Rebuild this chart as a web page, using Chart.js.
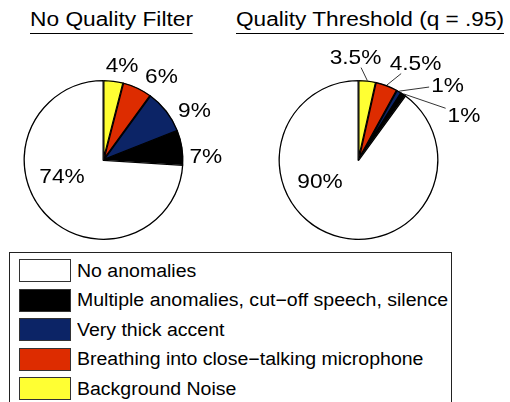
<!DOCTYPE html>
<html>
<head>
<meta charset="utf-8">
<script src="https://cdn.jsdelivr.net/npm/chart.js@4.4.1/dist/chart.umd.min.js"></script>
<style>
  html, body { margin:0; padding:0; background:#fff; }
  body { width:510px; height:402px; position:relative; overflow:hidden; font-family:"Liberation Sans", Arial, Helvetica, sans-serif; color:#000; }
  .title { position:absolute; top:8px; font-size:20px; line-height:22px; white-space:nowrap; transform-origin:0 0; border-bottom:1px solid #000; padding-bottom:3px; }
  canvas { position:absolute; }
  #legend { position:absolute; left:9px; top:252px; width:443px; height:170px; border:1px solid #222; box-sizing:border-box; }
  .row { position:absolute; left:9px; height:23px; display:flex; align-items:center; }
  .sw { width:52px; height:23px; box-sizing:border-box; border:1px solid #333; flex:none; }
  .lt { margin-left:6px; font-size:18px; line-height:18px; white-space:nowrap; transform-origin:0 50%; }
</style>
</head>
<body>
<div class="title" id="t1"></div>
<div class="title" id="t2"></div>
<canvas id="c1" width="255" height="200" style="left:0;top:40px;width:255px;height:200px"></canvas>
<canvas id="c2" width="255" height="200" style="left:255px;top:40px;width:255px;height:200px"></canvas>
<div id="legend"></div>
<script>
// ---- data (legend order) ----
const categories = ["No anomalies", "Multiple anomalies, cut\u2212off speech, silence", "Very thick accent", "Breathing into close\u2212talking microphone", "Background Noise"];
const colors = ["#ffffff", "#000000", "#0c2466", "#dd2c00", "#ffff33"];
const chartTitles = ["No Quality Filter", "Quality Threshold (q = .95)"];
const noFilterValues = [74, 7, 9, 6, 4];          // percent, legend order
const thresholdValues = [90, 1, 1, 4.5, 3.5];      // percent, legend order
const noFilterLabels = ["74%", "7%", "9%", "6%", "4%"];
const thresholdLabels = ["90%", "1%", "1%", "4.5%", "3.5%"];

// label placement (legend order): angular shift from slice middle (deg) and distance (x radius)
const noFilterLabelShift = [22.7, 6.5, 8.8, 9.3, 3.8];
const noFilterLabelDist  = [0.554, 1.28, 1.30, 1.28, 1.216];
const thresholdLabelShift = [44, 32.5, 19.1, 9.5, -7.95];
const thresholdLabelDist  = [0.545, 1.436, 1.459, 1.417, 1.30];
const thresholdLeaders = [false, true, true, true, true];

// ---- titles ----
const t1 = document.getElementById('t1');
const t2 = document.getElementById('t2');
t1.textContent = chartTitles[0];
t2.textContent = chartTitles[1];
t1.style.left = '30px';
t2.style.left = '236px';
function stretchTo(el, w) {
  const r = el.getBoundingClientRect().width;
  el.style.transform = 'scaleX(' + (w / r) + ')';
}
stretchTo(t1, 163);
stretchTo(t2, 268);

// ---- legend ----
const legend = document.getElementById('legend');
const texts = [];
categories.forEach((c, i) => {
  const row = document.createElement('div');
  row.className = 'row';
  row.style.top = (6 + i * 29.6) + 'px';
  const sw = document.createElement('div');
  sw.className = 'sw';
  sw.style.background = colors[i];
  const lt = document.createElement('span');
  lt.className = 'lt';
  lt.textContent = c;
  row.appendChild(sw);
  row.appendChild(lt);
  legend.appendChild(row);
  texts.push(lt);
});
const maxW = Math.max(...texts.map(t => t.getBoundingClientRect().width));
const lsx = 371 / maxW;
texts.forEach(t => { t.style.transform = 'scaleX(' + lsx + ')'; });

// ---- pie label plugin ----
const FS = 21;
const SX = 1.08;
const pieLabels = {
  id: 'pieLabels',
  afterDatasetsDraw(chart, args, opts) {
    const ctx = chart.ctx;
    const meta = chart.getDatasetMeta(0);
    ctx.save();
    ctx.font = FS + 'px "Liberation Sans", Arial, sans-serif';
    ctx.fillStyle = '#000';
    ctx.strokeStyle = '#000';
    ctx.lineWidth = 0.8;
    ctx.textAlign = 'center';
    ctx.textBaseline = 'alphabetic';
    meta.data.forEach((arc, i) => {
      const p = arc.getProps(['x', 'y', 'startAngle', 'endAngle', 'outerRadius'], true);
      const mid = (p.startAngle + p.endAngle) / 2;
      const a = mid + opts.shift[i] * Math.PI / 180;
      const d = opts.dist[i] * p.outerRadius;
      const cx = p.x + Math.cos(a) * d;
      const cy = p.y + Math.sin(a) * d;
      const txt = opts.labels[i];
      const w = ctx.measureText(txt).width * SX;
      const h = FS * 0.72;
      if (opts.leaders && opts.leaders[i]) {
        const sx0 = p.x + Math.cos(mid) * p.outerRadius;
        const sy0 = p.y + Math.sin(mid) * p.outerRadius;
        const dx = sx0 - cx, dy = sy0 - cy;
        const hw = w / 2 + 2, hh = h / 2 + 4;
        const s = Math.min(Math.abs(dx) > 1e-6 ? hw / Math.abs(dx) : Infinity,
                           Math.abs(dy) > 1e-6 ? hh / Math.abs(dy) : Infinity);
        ctx.beginPath();
        ctx.moveTo(sx0, sy0);
        ctx.lineTo(cx + dx * s, cy + dy * s);
        ctx.stroke();
      }
      ctx.save();
      ctx.translate(cx, cy + h / 2);
      ctx.scale(SX, 1);
      ctx.fillText(txt, 0, 0);
      ctx.restore();
    });
    ctx.restore();
  }
};

function makePie(id, values, labels, shift, dist, leaders) {
  const order = [4, 3, 2, 1, 0]; // clockwise from 12 o'clock: yellow, red, blue, black, white
  new Chart(document.getElementById(id), {
    type: 'pie',
    data: {
      labels: order.map(i => categories[i]),
      datasets: [{
        data: order.map(i => values[i]),
        backgroundColor: order.map(i => colors[i]),
        borderColor: '#000',
        borderWidth: 1,
        borderAlign: 'inner'
      }]
    },
    options: {
      responsive: false,
      animation: false,
      events: [],
      layout: { padding: { left: 23, right: 71, top: 40, bottom: 0 } },
      plugins: {
        legend: { display: false },
        tooltip: { enabled: false },
        pieLabels: {
          labels: order.map(i => labels[i]),
          shift: order.map(i => shift[i]),
          dist: order.map(i => dist[i]),
          leaders: leaders ? order.map(i => leaders[i]) : null
        }
      }
    },
    plugins: [pieLabels]
  });
}
makePie('c1', noFilterValues, noFilterLabels, noFilterLabelShift, noFilterLabelDist, null);
makePie('c2', thresholdValues, thresholdLabels, thresholdLabelShift, thresholdLabelDist, thresholdLeaders);
</script>
</body>
</html>
